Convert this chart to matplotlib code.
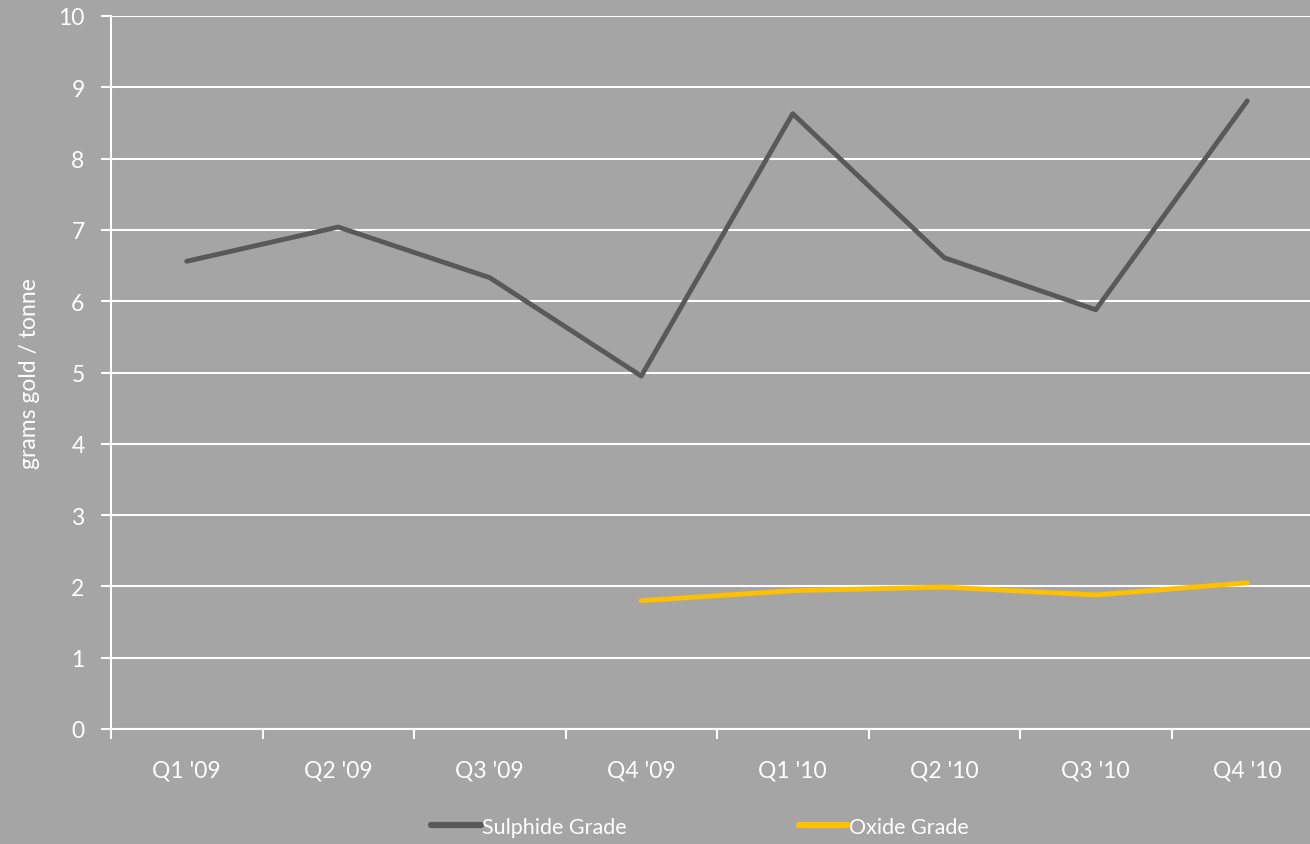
import numpy as np
import matplotlib.pyplot as plt

# Données
quarters = ["Q1 '09", "Q2 '09", "Q3 '09", "Q4 '09", "Q1 '10", "Q2 '10", "Q3 '10", "Q4 '10"]
sulphide = [6.56, 7.04, 6.33, 4.95, 8.63, 6.61, 5.88, 8.81]
oxide = [np.nan, np.nan, np.nan, 1.80, 1.94, 1.99, 1.88, 2.05]

bg = '#a5a5a5'
plt.rcParams['font.family'] = ['Lato', 'DejaVu Sans']
fs = 16.5

fig = plt.figure(figsize=(13.1, 8.45), dpi=100, facecolor=bg)
# l'axe dépasse à droite de l'image comme sur l'original
ax = fig.add_axes([111 / 1310, 1 - 730 / 845, (1323 - 111) / 1310, (730 - 17) / 845])
ax.set_facecolor(bg)

x = np.arange(len(quarters))
ax.plot(x, sulphide, color='#595959', lw=3.5, solid_capstyle='round', label='Sulphide Grade', zorder=3)
ax.plot(x, oxide, color='#ffc000', lw=3.5, solid_capstyle='round', label='Oxide Grade', zorder=3)

ax.set_xlim(-0.5, len(quarters) - 0.5)
ax.set_ylim(0, 10)
ax.set_yticks(range(0, 11))
ax.yaxis.grid(True, color='white', lw=1.5)
ax.set_axisbelow(True)

# graduations aux limites des catégories, étiquettes au centre
ax.set_xticks(np.arange(-0.5, len(quarters), 1.0))
ax.set_xticklabels([])
ax.set_xticks(x, minor=True)
ax.set_xticklabels(quarters, minor=True)
ax.tick_params(axis='x', which='major', length=7, width=1.5, color='white', direction='out')
ax.tick_params(axis='x', which='minor', length=0, pad=22, labelsize=fs, labelcolor='white')
ax.tick_params(axis='y', length=7, width=1.5, color='white', labelsize=fs, labelcolor='white', pad=12)

for s in ['top', 'right']:
    ax.spines[s].set_visible(False)
for s in ['left', 'bottom']:
    ax.spines[s].set_color('white')
    ax.spines[s].set_linewidth(1.5)

fig.text(30 / 1310, 1 - 374 / 845, 'grams gold / tonne', rotation=90, color='white',
         fontsize=fs, ha='center', va='center')

leg = fig.legend(loc='center', bbox_to_anchor=(700 / 1310, 1 - 828 / 845), ncol=2,
                 frameon=False, fontsize=15.5, labelcolor='white', handlelength=2.3,
                 handletextpad=0.05, columnspacing=8.0)
for h in leg.legend_handles:
    h.set_linewidth(4.5)

fig.savefig('out.png', dpi=100, facecolor=bg)
